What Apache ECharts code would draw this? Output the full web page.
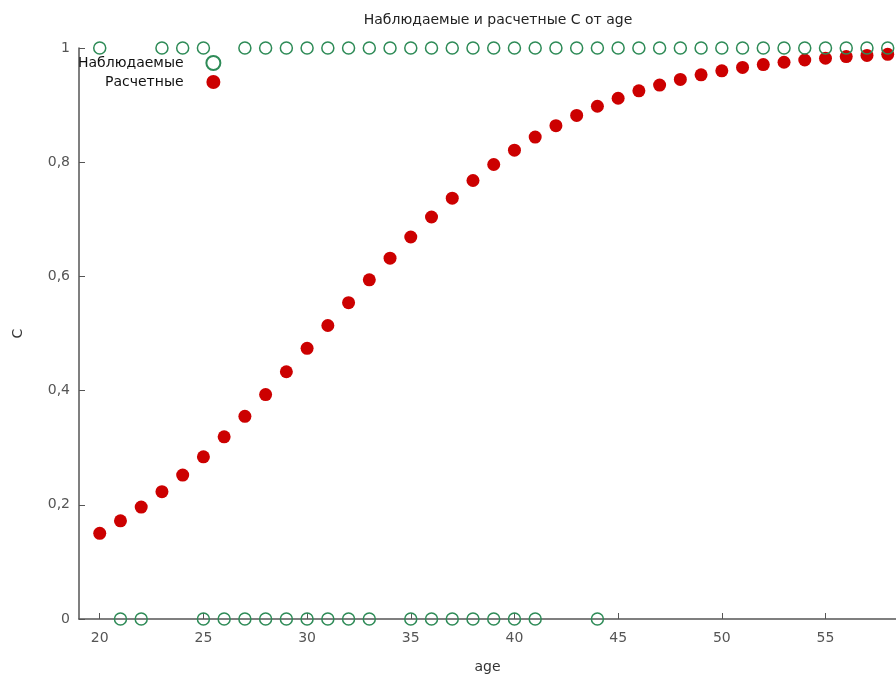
<!DOCTYPE html>
<html><head><meta charset="utf-8">
<script src="https://cdn.jsdelivr.net/npm/echarts@6/dist/echarts.min.js"></script>
<style>html,body{margin:0;padding:0;background:#fff}#c{width:896px;height:675px}</style>
</head><body><div id="c"></div>
<script>
const titleText = 'Наблюдаемые и расчетные С от age';
const xName = 'age';
const yName = 'С';
const seriesNames = ['Наблюдаемые', 'Расчетные'];
const xTicks = [20, 25, 30, 35, 40, 45, 50, 55];
const yTicks = [0, 0.2, 0.4, 0.6, 0.8, 1];
// observed outcomes (ages with C=1 and ages with C=0)
const obsAgesOne = [20, 23, 24, 25, 27, 28, 29, 30, 31, 32, 33, 34, 35, 36, 37, 38, 39, 40, 41, 42, 43, 44, 45, 46, 47, 48, 49, 50, 51, 52, 53, 54, 55, 56, 57, 58];
const obsAgesZero = [21, 22, 25, 26, 27, 28, 29, 30, 31, 32, 33, 35, 36, 37, 38, 39, 40, 41, 44];
// predicted values
const predAges = [20,21,22,23,24,25,26,27,28,29,30,31,32,33,34,35,36,37,38,39,40,41,42,43,44,45,46,47,48,49,50,51,52,53,54,55,56,57,58];
const predVals = [0.150,0.172,0.196,0.223,0.252,0.284,0.319,0.355,0.393,0.433,0.474,0.514,0.554,0.594,0.632,0.669,0.704,0.737,0.768,0.796,0.821,0.844,0.864,0.882,0.898,0.912,0.925,0.935,0.945,0.953,0.960,0.966,0.971,0.975,0.979,0.982,0.985,0.987,0.989];

const obsData = obsAgesOne.map(a => [a, 1]).concat(obsAgesZero.map(a => [a, 0]));
const predData = predAges.map((a, i) => [a, predVals[i]]);

const FONT = 'DejaVu Sans';
const axisCol = '#555';
const chart = echarts.init(document.getElementById('c'), null, {renderer: 'canvas'});
chart.setOption({
  animation: false,
  backgroundColor: '#fff',
  textStyle: {fontFamily: FONT},
  title: {
    text: titleText, left: 493, top: 8, textAlign: 'center',
    textStyle: {fontFamily: FONT, fontSize: 14, fontWeight: 'normal', color: '#222'}
  },
  legend: {
    orient: 'vertical', left: 73, top: 50, align: 'right',
    itemWidth: 14, itemHeight: 14, itemGap: 4,
    formatter: n => n + '    ',
    textStyle: {fontFamily: FONT, fontSize: 14, color: '#111'},
    data: seriesNames
  },
  grid: {left: 79, right: 0, top: 48, bottom: 56, containLabel: false, outerBoundsMode: 'none'},
  xAxis: {
    type: 'value', min: 19, max: 58.4,
    name: xName, nameLocation: 'middle', nameGap: 41,
    nameTextStyle: {fontFamily: FONT, fontSize: 14, color: '#333'},
    axisLine: {show: true, lineStyle: {color: axisCol, width: 1.5}},
    axisTick: {show: true, inside: true, length: 6, customValues: xTicks, lineStyle: {color: axisCol}},
    axisLabel: {customValues: xTicks, fontSize: 14, color: axisCol, margin: 12, fontFamily: FONT},
    splitLine: {show: false}
  },
  yAxis: {
    type: 'value', min: 0, max: 1, interval: 0.2,
    name: yName, nameLocation: 'middle', nameGap: 54, nameRotate: 90,
    nameTextStyle: {fontFamily: FONT, fontSize: 14, color: '#333'},
    axisLine: {show: true, lineStyle: {color: axisCol, width: 1.5}},
    axisTick: {show: true, inside: true, length: 6, lineStyle: {color: axisCol}},
    axisLabel: {fontSize: 14, color: axisCol, margin: 9, fontFamily: FONT,
      formatter: v => String(+v.toFixed(1)).replace('.', ',')},
    splitLine: {show: false}
  },
  series: [
    {
      name: seriesNames[0], type: 'scatter', data: obsData,
      symbol: 'circle', symbolSize: 12, z: 3,
      itemStyle: {color: 'rgba(255,255,255,0)', borderColor: '#2e8b57', borderWidth: 1.5, opacity: 1},
      clip: false
    },
    {
      name: seriesNames[1], type: 'scatter', data: predData,
      symbol: 'circle', symbolSize: 13, z: 2,
      itemStyle: {color: '#cc0000', opacity: 1},
      clip: false
    }
  ]
});
</script></body></html>
